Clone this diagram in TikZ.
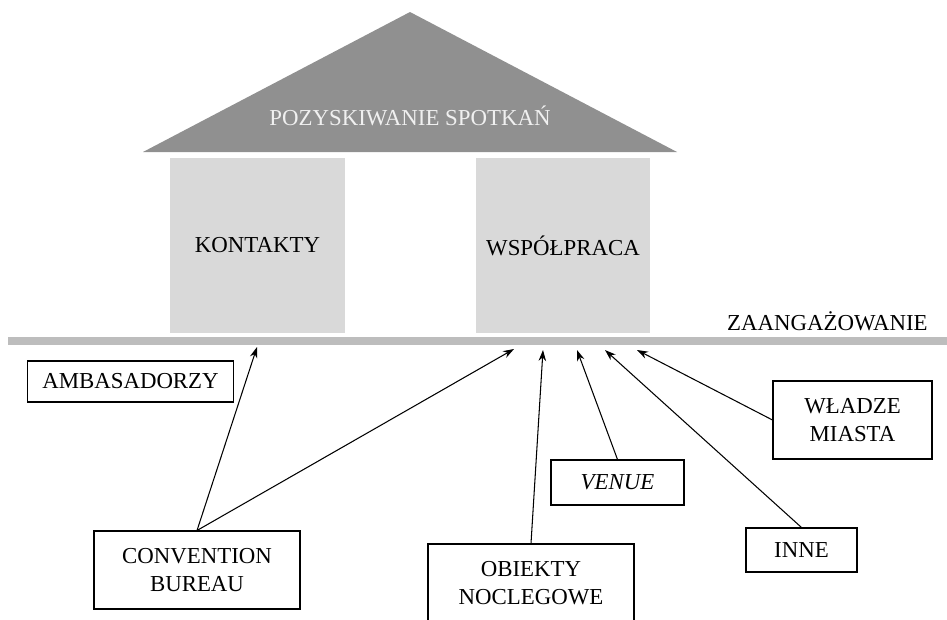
\documentclass[tikz,border=0pt]{standalone}
\usepackage{fontspec}
\setmainfont{Liberation Serif}
\usepackage{xcolor}
\usepackage{tikz}
\usetikzlibrary{arrows.meta}
\definecolor{roofgray}{HTML}{909090}
\definecolor{pillargray}{HTML}{D9D9D9}
\definecolor{groundgray}{HTML}{BDBDBD}
\tikzstyle{pillar} = [rectangle, minimum width=3.5cm, minimum height=3.5cm, inner sep=0pt, text centered, fill=pillargray]
\tikzstyle{box} = [rectangle, inner sep=0pt, align=center, draw=black, line width=0.6pt, fill=white]
\tikzstyle{arrow} = [line width=0.6pt,->,>={Stealth[length=2.2mm,width=1.5mm]}]

\begin{document}
\begin{tikzpicture}[x=0.02cm, y=-0.02cm, font=\fontsize{13}{15.5}\selectfont]
        \clip (0,0) rectangle (947,619);

        % Roof, pillars and ground
        \fill [roofgray] (143,152) -- (410,12) -- (677,152) -- cycle;
        \node (goal) [text=white!94!black] at (410,116) {POZYSKIWANIE SPOTKAŃ};
        \node (kontakty) [pillar] at (257.5,245.5) {KONTAKTY};
        \node (wspolpraca) [pillar] at (563,245.5) {WSPÓŁPRACA};
        \fill [groundgray] (8,337) rectangle (947,345);
        \node (zaang) [anchor=base east, inner sep=0pt] at (928,330) {ZAANGAŻOWANIE};

        % Nodes
        \node (amb) [box, minimum width=4.12cm, minimum height=0.82cm] at (130.5,381.5) {AMBASADORZY};
        \node (conv) [box, minimum width=4.12cm, minimum height=1.56cm] at (197,570) {CONVENTION\\BUREAU};
        \node (obiekty) [box, minimum width=4.12cm, minimum height=1.56cm] at (531,583) {OBIEKTY\\NOCLEGOWE};
        \node (venue) [box, minimum width=2.66cm, minimum height=0.9cm] at (617.5,482.5) {\textit{VENUE}};
        \node (inne) [box, minimum width=2.22cm, minimum height=0.88cm] at (801.5,550) {INNE};
        \node (wladze) [box, minimum width=3.18cm, minimum height=1.56cm] at (852.5,420) {WŁADZE\\MIASTA};

        % Points under the ground line
        \coordinate (t1) at (257,347);
        \coordinate (t2) at (514,349);
        \coordinate (t3) at (543,350);
        \coordinate (t4) at (577,350);
        \coordinate (t5) at (605,350);
        \coordinate (t6) at (637,350);

        % Arrows
        \draw [arrow] (conv.north) -- (t1);
        \draw [arrow] (conv.north) -- (t2);
        \draw [arrow] (obiekty.north) -- (t3);
        \draw [arrow] (venue.north) -- (t4);
        \draw [arrow] (inne.north) -- (t5);
        \draw [arrow] (wladze.west) -- (t6);
\end{tikzpicture}
\end{document}
